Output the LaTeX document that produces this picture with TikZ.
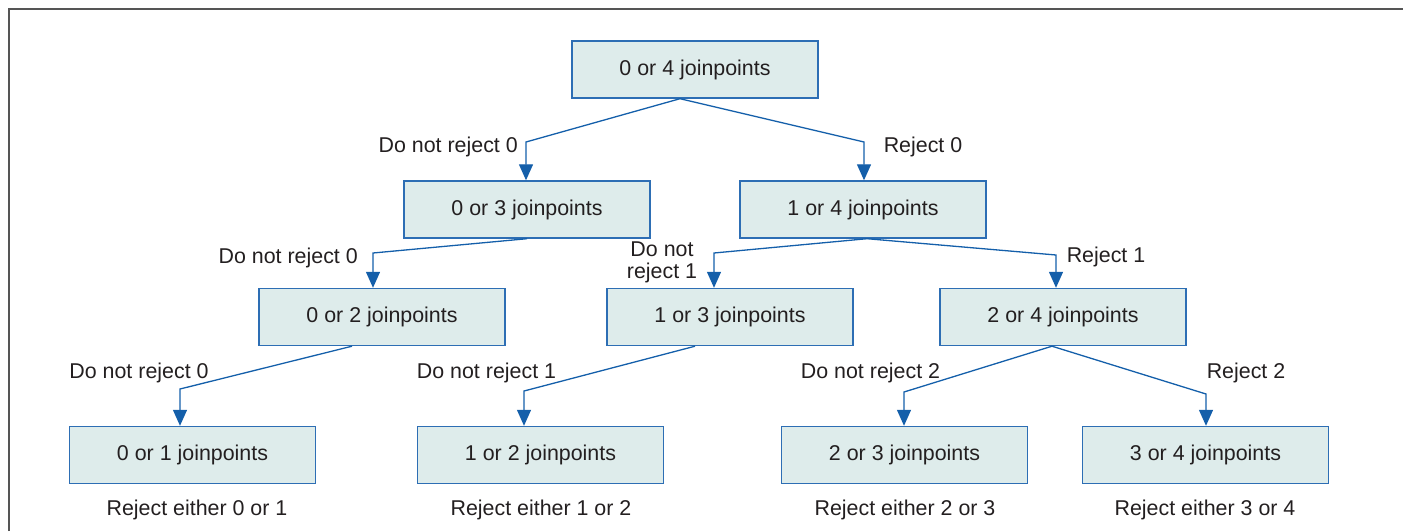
\documentclass[tikz,border=0pt]{standalone}
\usepackage{fontspec}
\setmainfont{Liberation Sans}
\usetikzlibrary{arrows.meta}
\definecolor{boxfill}{RGB}{222,236,235}
\definecolor{boxline}{RGB}{45,110,180}
\definecolor{edgecol}{RGB}{20,95,170}
\definecolor{txt}{RGB}{35,31,32}
\definecolor{frame}{RGB}{85,85,85}
\tikzset{
  box/.style={draw=boxline, fill=boxfill, line width=1.4pt, minimum width=246pt, minimum height=57pt, inner sep=0pt, text=txt, font=\fontsize{21.4}{22}\selectfont},
  lbl/.style={text=txt, font=\fontsize{21.4}{22}\selectfont, inner sep=0pt},
  edge/.style={draw=edgecol, line width=1.3pt, -{Triangle[length=16pt,width=14pt]}}
}
\begin{document}
\begin{tikzpicture}[x=1pt,y=-1pt]
\useasboundingbox (0,0) rectangle (1403,531);
\draw[frame, line width=2pt] (9,531) -- (9,9) -- (1403,9);

% boxes
\node[box] (n04) at (695,69.5) {0 or 4 joinpoints};
\node[box] (n03) at (527,209.5) {0 or 3 joinpoints};
\node[box] (n14) at (863,209.5) {1 or 4 joinpoints};
\node[box] (n02) at (382,317) {0 or 2 joinpoints};
\node[box] (n13) at (730,317) {1 or 3 joinpoints};
\node[box] (n24) at (1063,317) {2 or 4 joinpoints};
\node[box] (n01) at (192.5,455) {0 or 1 joinpoints};
\node[box] (n12) at (540.5,455) {1 or 2 joinpoints};
\node[box] (n23) at (904.5,455) {2 or 3 joinpoints};
\node[box] (n34) at (1205.5,455) {3 or 4 joinpoints};

% bend points
\coordinate (b1) at (526,142);
\coordinate (b2) at (864,142);
\coordinate (b3) at (373,253);
\coordinate (b4) at (714,253);
\coordinate (b5) at (1056,255);
\coordinate (b6) at (180,389);
\coordinate (b7) at (524,391);
\coordinate (b8) at (904,392);
\coordinate (b9) at (1206,394);

% connectors
\draw[edge] ([xshift=-15pt]n04.south) -- (b1) -- (b1 |- n03.north);
\draw[edge] ([xshift=-15pt]n04.south) -- (b2) -- (b2 |- n14.north);
\draw[edge] (n03.south) -- (b3) -- (b3 |- n02.north);
\draw[edge] ([xshift=4pt]n14.south) -- (b4) -- (b4 |- n13.north);
\draw[edge] ([xshift=4pt]n14.south) -- (b5) -- (b5 |- n24.north);
\draw[edge] ([xshift=-30pt]n02.south) -- (b6) -- (b6 |- n01.north);
\draw[edge] ([xshift=-35pt]n13.south) -- (b7) -- (b7 |- n12.north);
\draw[edge] ([xshift=-11pt]n24.south) -- (b8) -- (b8 |- n23.north);
\draw[edge] ([xshift=-11pt]n24.south) -- (b9) -- (b9 |- n34.north);

% labels
\node[lbl, anchor=base east] (l1) at (518,152) {Do not reject 0};
\node[lbl, anchor=base] (l2) at (923,152) {Reject 0};
\node[lbl, anchor=base east] (l3) at (358,263) {Do not reject 0};
\node[lbl, align=center] (l4) at (662,262.5) {Do not\\reject 1};
\node[lbl, anchor=base] (l5) at (1106,262) {Reject 1};
\node[lbl, anchor=base] (l6) at (139,378) {Do not reject 0};
\node[lbl, anchor=base] (l7) at (486.5,378) {Do not reject 1};
\node[lbl, anchor=base] (l8) at (870.5,378) {Do not reject 2};
\node[lbl, anchor=base] (l9) at (1246,378) {Reject 2};
\node[lbl, anchor=base] (r1) at (197,515) {Reject either 0 or 1};
\node[lbl, anchor=base] (r2) at (541,515) {Reject either 1 or 2};
\node[lbl, anchor=base] (r3) at (905,515) {Reject either 2 or 3};
\node[lbl, anchor=base] (r4) at (1205,515) {Reject either 3 or 4};
\end{tikzpicture}
\end{document}
